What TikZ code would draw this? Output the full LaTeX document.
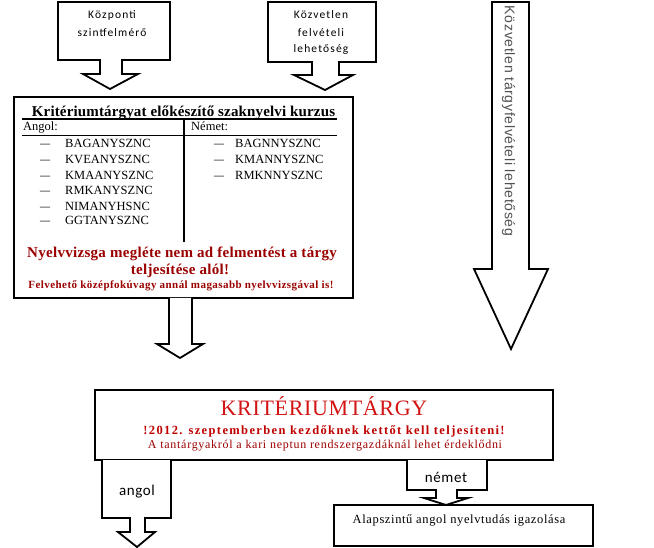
\documentclass[tikz,border=0pt]{standalone}
\usepackage{fontspec}
\setmainfont{Liberation Serif}
\newfontfamily\fSerif{Liberation Serif}
\newfontfamily\fSerifT{Liberation Serif}[LetterSpace=1]
\newfontfamily\fSerifR{Liberation Serif}[LetterSpace=2]
\newfontfamily\fSerifS{Liberation Serif}[LetterSpace=4]
\newfontfamily\fSerifM{Liberation Serif}[LetterSpace=5]
\newfontfamily\fSerifN{Liberation Serif}[LetterSpace=6]
\newfontfamily\fSerifW{Liberation Serif}[LetterSpace=11]
\newfontfamily\fSerifK{Liberation Serif}[LetterSpace=3]
\newfontfamily\fSansTop{Carlito}[LetterSpace=10]
\newfontfamily\fSansLab{Carlito}[LetterSpace=4]
\newfontfamily\fArial{Liberation Sans}[LetterSpace=5]
\definecolor{kritred}{RGB}{210,20,20}
\definecolor{midred}{RGB}{192,0,0}
\definecolor{darkred}{RGB}{155,0,0}
\definecolor{graytxt}{RGB}{80,80,80}
\begin{document}
\begin{tikzpicture}[x=1pt,y=-1pt,
  outline/.style={draw=black,line width=1.8pt,fill=white,line join=miter},
  rule/.style={draw=black,line width=1.1pt},
  lbl/.style={inner sep=0pt,anchor=base},
  lblw/.style={inner sep=0pt,anchor=base west},
  topfont/.style={font=\fSansTop\fontsize{11.5}{13}\selectfont},
  labfont/.style={font=\fSansLab\fontsize{15}{17}\selectfont},
  itemfont/.style={font=\fSerif\fontsize{12.5}{14}\selectfont},
  boldtitle/.style={font=\fSerifT\bfseries\fontsize{15}{17}\selectfont},
  redbig/.style={font=\fSerifR\bfseries\fontsize{15}{17}\selectfont,text=darkred},
  redsmall/.style={font=\fSerifS\bfseries\fontsize{11}{13}\selectfont,text=darkred},
]
\useasboundingbox (0,0) rectangle (654,548);
% --- top callout 1
\draw[outline] (58,2) -- (170,2) -- (170,60) -- (122,60) -- (122,74) -- (138,74)
  -- (110,89) -- (83,74) -- (100,74) -- (100,60) -- (58,60) -- cycle;
\node[lbl,topfont] (k1a) at (112,19) {Központi};
\node[lbl,topfont] (k1b) at (112,36.5) {szintfelmérő};
% --- top callout 2
\draw[outline] (268,2) -- (376,2) -- (376,62) -- (339,62) -- (339,75) -- (353,75)
  -- (325,90) -- (294,75) -- (312,75) -- (312,62) -- (268,62) -- cycle;
\node[lbl,topfont] (k2a) at (321,19) {Közvetlen};
\node[lbl,topfont] (k2b) at (321,36.5) {felvételi};
\node[lbl,topfont] (k2c) at (321,53) {lehetőség};
% --- right long arrow
\draw[outline] (492,2) -- (529,2) -- (529,269) -- (548,269) -- (511,349)
  -- (474,269) -- (492,269) -- cycle;
\node[inner sep=0pt,rotate=-90,font=\fArial\fontsize{14}{16}\selectfont,text=graytxt]
  (rt) at (508.5,121) {Közvetlen tárgyfelvételi lehetőség};
% --- main course box
\draw[outline] (14,97) rectangle (353,298);
\node[lbl,boldtitle] (title) at (183.5,116.5) {Kritériumtárgyat előkészítő szaknyelvi kurzus};
\draw[rule] (22,119) -- (337,119);
\draw[rule] (22,135.5) -- (337,135.5);
\draw[rule] (184,119) -- (184,242);
\node[lblw,itemfont] (ang) at (23,131) {Angol:};
\node[lblw,itemfont] (nem) at (191,131) {Német:};
\foreach \t/\yy [count=\i] in {BAGANYSZNC/148,KVEANYSZNC/164,KMAANYSZNC/180,RMKANYSZNC/195,NIMANYHSNC/211,GGTANYSZNC/225}{
  \node[lbl,itemfont] (ad\i) at (45,\yy) {\scalebox{1.6}[1]{–}};
  \node[lblw,itemfont] (a\i) at (65,\yy) {\t};
}
\foreach \t/\yy [count=\i] in {BAGNNYSZNC/148,KMANNYSZNC/164,RMKNNYSZNC/180}{
  \node[lbl,itemfont] (nd\i) at (219,\yy) {\scalebox{1.6}[1]{–}};
  \node[lblw,itemfont] (n\i) at (235,\yy) {\t};
}
\node[lbl,redbig] (r1) at (182,258) {Nyelvvizsga megléte nem ad felmentést a tárgy};
\node[lbl,redbig] (r2) at (180,275) {teljesítése alól!};
\node[lbl,redsmall] (r3) at (181,289) {Felvehető középfokúvagy annál magasabb nyelvvizsgával is!};
% --- arrow below main box
\draw[outline] (169,298) -- (169,344) -- (157,344) -- (180,358) -- (203,344)
  -- (192,344) -- (192,298);
% --- KRITERIUMTARGY box
\draw[outline] (95,390) rectangle (553,460);
\node[lbl,font=\fSerifK\fontsize{22}{24}\selectfont,text=kritred] (krit) at (324,415) {KRITÉRIUMTÁRGY};
\node[lbl,font=\fSerifW\bfseries\fontsize{12.5}{14}\selectfont,text=midred] (k2012) at (324,435) {!2012. szeptemberben kezdőknek kettőt kell teljesíteni!};
\node[lbl,font=\fSerifN\fontsize{12}{14}\selectfont,text=darkred] (kinfo) at (325,448) {A tantárgyakról a kari neptun rendszergazdáknál lehet érdeklődni};
% --- angol callout
\draw[outline] (102,460) -- (102,518) -- (130,518) -- (130,532) -- (118,532)
  -- (137,547) -- (155,532) -- (145,532) -- (145,518) -- (171,518) -- (171,460);
\node[lbl,labfont] (angol) at (137,495) {angol};
% --- alapszintu box
\draw[outline] (334,505) rectangle (593,546);
\node[lbl,font=\fSerifM\fontsize{12.5}{14}\selectfont] (alap) at (459,523) {Alapszintű angol nyelvtudás igazolása};
% --- nemet callout
\draw[outline] (407,460) -- (407,490) -- (436,490) -- (436,498) -- (424,498)
  -- (446,505) -- (468,498) -- (457,498) -- (457,490) -- (487,490) -- (487,460);
\node[lbl,labfont] (nemet) at (446,482) {német};
\end{tikzpicture}
\end{document}
